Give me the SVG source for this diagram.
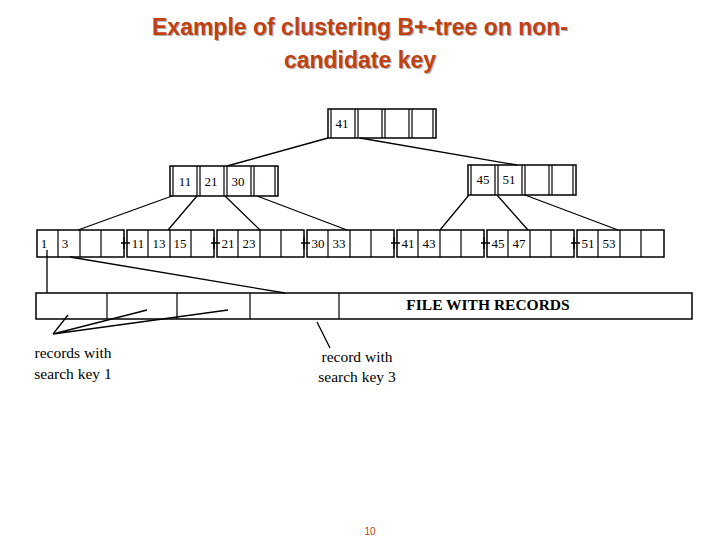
<svg xmlns="http://www.w3.org/2000/svg" width="720" height="540" viewBox="0 0 720 540">
<style>
.t{font-family:"Liberation Sans",Arial,sans-serif;font-weight:bold;font-size:23px;fill:#c0400f;text-anchor:middle}
.sh{fill:#b0b0b0}
.n{font-family:"Liberation Serif","Times New Roman",serif;font-size:13px;fill:#000;text-anchor:middle}
.l{font-family:"Liberation Serif","Times New Roman",serif;font-size:15.5px;fill:#000;text-anchor:middle}
.box{fill:#fff;stroke:#000;stroke-width:1.5}
.dv{stroke:#000;stroke-width:1.2}
.c{stroke:#000;stroke-width:1.3;fill:none}
</style>
<rect width="720" height="540" fill="#fff"/>
<g id="title">
<text class="t sh" x="361" y="36">Example of clustering B+-tree on non-</text>
<text class="t sh" x="361" y="69">candidate key</text>
<text class="t" x="360" y="35">Example of clustering B+-tree on non-</text>
<text class="t" x="360" y="68">candidate key</text>
</g>
<g id="root">
<rect class="box" x="328" y="109" width="108" height="29"/>
<path class="dv" d="M355 109V138M382 109V138M409 109V138M331 109V138M358 109V138M385 109V138M412 109V138M433 109V138"/>
<text class="n" x="342" y="128">41</text>
</g>
<g id="internalLeft">
<rect class="box" x="170" y="166" width="108" height="30"/>
<path class="dv" d="M173 166V196M197 166V196M200 166V196M224 166V196M227 166V196M251 166V196M254 166V196M275 166V196"/>
<text class="n" x="185" y="186">11</text><text class="n" x="211" y="186">21</text><text class="n" x="238" y="186">30</text>
</g>
<g id="internalRight">
<rect class="box" x="468" y="165" width="108" height="30"/>
<path class="dv" d="M471 165V195M495 165V195M498 165V195M522 165V195M525 165V195M549 165V195M552 165V195M573 165V195"/>
<text class="n" x="483" y="184">45</text><text class="n" x="509" y="184">51</text>
</g>
<g id="leaf1"><rect class="box" x="37" y="230" width="87" height="27"/><path class="dv" d="M58 230V257M80 230V257M101 230V257"/><text class="n" x="44" y="248">1</text><text class="n" x="65" y="248">3</text></g>
<g id="leaf2"><rect class="box" x="127" y="230" width="87" height="27"/><path class="dv" d="M148 230V257M170 230V257M191 230V257"/><text class="n" x="138" y="248">11</text><text class="n" x="159" y="248">13</text><text class="n" x="180" y="248">15</text></g>
<g id="leaf3"><rect class="box" x="217" y="230" width="87" height="27"/><path class="dv" d="M238 230V257M260 230V257M281 230V257"/><text class="n" x="228" y="248">21</text><text class="n" x="249" y="248">23</text></g>
<g id="leaf4"><rect class="box" x="307" y="230" width="87" height="27"/><path class="dv" d="M328 230V257M350 230V257M371 230V257"/><text class="n" x="318" y="248">30</text><text class="n" x="339" y="248">33</text></g>
<g id="leaf5"><rect class="box" x="397" y="230" width="87" height="27"/><path class="dv" d="M418 230V257M440 230V257M461 230V257"/><text class="n" x="408" y="248">41</text><text class="n" x="429" y="248">43</text></g>
<g id="leaf6"><rect class="box" x="487" y="230" width="87" height="27"/><path class="dv" d="M508 230V257M530 230V257M551 230V257"/><text class="n" x="498" y="248">45</text><text class="n" x="519" y="248">47</text></g>
<g id="leaf7"><rect class="box" x="577" y="230" width="87" height="27"/><path class="dv" d="M598 230V257M620 230V257M641 230V257"/><text class="n" x="588" y="248">51</text><text class="n" x="609" y="248">53</text></g>
<g id="file">
<rect class="box" x="36" y="293" width="656" height="26"/>
<path class="dv" d="M107 293V319M177 293V319M250 293V319M339 293V319"/>
<text class="l" x="488" y="310" font-weight="bold" font-size="14">FILE WITH RECORDS</text>
</g>
<g id="connectors">
<path class="c" d="M328 138L227 166M360 138L517 165"/>
<path class="c" d="M172 196L78 230M197 196L168 230M225 196L260 230M257 196L347 230"/>
<path class="c" d="M469 195L440 230M497 195L528 230M525 195L618 230"/>
<path class="c" d="M121 243H130M124 237V249M211 243H220M214 237V249M301 243H310M304 237V249M391 243H400M394 237V249M481 243H490M484 237V249M571 243H580M574 237V249"/>
<path class="c" d="M47 250V293M70 257L285 293"/>
<path class="c" d="M53 334L68 315M53 334L147 310M53 334L228 310M317 322L330 348"/>
</g>
<g id="labels">
<text class="l" x="73" y="358">records with</text>
<text class="l" x="73" y="379">search key 1</text>
<text class="l" x="357" y="362">record with</text>
<text class="l" x="357" y="382">search key 3</text>
</g>
<text x="370" y="535" font-family="Liberation Sans,Arial,sans-serif" font-size="10" fill="#c0400f" text-anchor="middle">10</text>
</svg>
